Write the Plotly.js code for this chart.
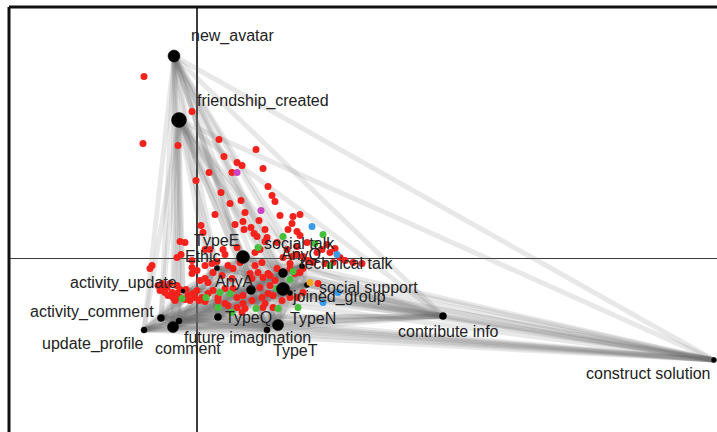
<!DOCTYPE html>
<html>
<head>
<meta charset="utf-8">
<script src="https://cdn.plot.ly/plotly-3.0.1.min.js"></script>
<style>
  html, body { margin: 0; padding: 0; background: #fff; }
  #chart { width: 717px; height: 432px; }
</style>
</head>
<body>
<div id="chart"></div>
<script>
// Activity / category nodes on the first two dimensions
const nodeNames = [
  "new_avatar", "friendship_created", "TypeE", "Ethic", "AnyA",
  "social talk", "AnyQ", "technical talk", "social support", "joined_group",
  "TypeQ", "TypeN", "TypeT", "future imagination", "comment",
  "activity_comment", "update_profile", "activity_update", "contribute info", "construct solution"
];
const nodeX = [-0.23, -0.18, 0.46, 0.20, 0.54, 0.86, 0.86, 1.05, 1.10, 0.93,
               0.21, 0.81, 0.70, -0.18, -0.24, -0.36, -0.53, -0.14, 2.46, 5.17];
const nodeY = [2.025, 1.385, 0.015, -0.095, -0.315, -0.145, -0.305, -0.075, -0.265, -0.345,
               -0.585, -0.665, -0.715, -0.625, -0.685, -0.595, -0.715, -0.325, -0.575, -1.015];
const nodeFreq = [40, 62, 47, 7, 22, 22, 47, 7, 7, 7,
                  14, 34, 10, 10, 34, 14, 10, 4.5, 14, 7];

// Individual participants, by group
const redX = [-0.53,-0.05,-0.54,-0.19,0.22,0.59,0.27,0.40,0.45,0.66,0.12,0.35,-0.01,0.71,0.24,0.75,0.78,0.33,0.44,0.18,
  0.48,0.83,1.03,0.96,0.04,0.06,0.38,0.46,0.47,0.54,0.57,0.62,0.68,0.70,0.91,0.95,1.00,1.03,0.60,-0.17,
  -0.12,0.68,0.80,1.00,1.10,1.30,1.38,0.26,0.08,0.13,0.40,0.28,0.63,0.90,0.58,1.00,1.06,1.20,1.25,1.33,
  1.43,1.48,1.56,1.65,1.36,1.28,1.16,1.11,0.93,-0.20,-0.16,-0.05,0.20,0.15,0.08,0.31,0.36,0.43,0.65,0.86,
  0.95,-0.45,-0.47,-0.05,0.00,0.58,0.61,0.53,0.71,0.80,0.93,1.06,0.98,1.03,0.66,0.73,0.78,0.55,1.21,0.16,
  0.25,0.08,0.03,-0.05,0.35,0.11,-0.35,-0.30,-0.25,-0.20,-0.11,-0.09,-0.02,0.05,0.00,-0.20,-0.27,-0.34,-0.29,-0.24,
  -0.17,-0.12,-0.07,-0.39,-0.32,-0.17,-0.04,0.02,0.08,-0.22,-0.37,0.11,0.16,0.28,0.36,0.21,0.40,0.46,0.55,0.65,
  0.68,0.71,0.73,0.63,0.76,0.85,0.93,1.00,1.06,0.66,0.76,0.31,0.40,0.48,0.46,0.45,0.21,0.28];
const redY = [1.82,1.47,1.15,1.13,1.19,1.09,1.02,0.96,0.93,0.90,0.86,0.86,0.78,0.72,0.66,0.63,0.57,0.55,0.58,0.44,
  0.46,0.43,0.44,0.42,0.33,0.26,0.34,0.37,0.29,0.31,0.25,0.38,0.29,0.21,0.29,0.35,0.27,0.23,0.22,0.17,
  0.16,0.17,0.16,0.12,0.16,0.14,0.10,0.09,0.09,0.09,0.11,0.04,0.09,0.09,0.06,0.04,0.02,0.06,0.09,0.06,
  0.01,-0.02,-0.04,-0.05,-0.04,-0.05,-0.04,-0.02,-0.05,0.01,0.04,-0.02,-0.03,-0.05,-0.07,-0.07,-0.10,-0.04,-0.04,0.01,
  0.02,-0.07,-0.10,-0.09,-0.12,-0.07,-0.14,-0.15,-0.15,-0.10,-0.10,-0.10,-0.15,-0.14,-0.19,-0.17,-0.22,-0.20,-0.25,-0.14,
  -0.17,-0.20,-0.22,-0.15,-0.20,-0.24,-0.25,-0.29,-0.34,-0.35,-0.31,-0.37,-0.39,-0.39,-0.32,-0.27,-0.25,-0.30,-0.37,-0.39,
  -0.39,-0.41,-0.42,-0.27,-0.34,-0.31,-0.35,-0.42,-0.43,-0.42,-0.32,-0.35,-0.32,-0.30,-0.30,-0.39,-0.39,-0.37,-0.42,-0.39,
  -0.45,-0.35,-0.27,-0.29,-0.37,-0.42,-0.39,-0.39,-0.34,-0.49,-0.49,-0.47,-0.49,-0.50,-0.45,-0.54,-0.42,-0.45];
const greenX = [0.61,0.86,1.26,1.18,1.33,0.96,0.93,0.80,1.01,0.59,0.81,0.35,0.23,0.33,-0.15,0.09,0.21];
const greenY = [0.11,0.22,0.24,0.15,-0.07,-0.13,-0.21,-0.30,-0.49,-0.50,-0.50,-0.54,-0.34,-0.35,-0.40,-0.39,-0.49];
const blueX = [1.15, 1.40, 1.41, 1.26];
const blueY = [0.32, 0.04, -0.34, -0.44];
const purpleX = [0.40, 0.64];
const purpleY = [0.86, 0.48];
const orangeX = [1.13];
const orangeY = [-0.24];

// Label placement (pixel offsets from each node)
const labelDX = [15, 16, -51, -34, -38, -21, -4, -4, 10, 0, 5, 10, 4, 3, -20, -133, -104, -115, -47, -130];
const labelDY = [20, 19, 17, 12, 9, 30, 35, 3, -2, -4, 0, 7, -20, -16, -21, 6, -14, 8, -15, -13];

const traces = [];

// Links between every pair of nodes, drawn one by one so overlaps build up
for (let i = 0; i < nodeNames.length; i++) {
  for (let j = i + 1; j < nodeNames.length; j++) {
    traces.push({
      type: "scatter", mode: "lines",
      x: [nodeX[i], nodeX[j]], y: [nodeY[i], nodeY[j]],
      line: { color: "rgba(110,110,110,0.16)", width: 5 },
      hoverinfo: "skip"
    });
  }
}

function pts(x, y, color) {
  return {
    type: "scatter", mode: "markers", x: x, y: y,
    marker: { color: color, size: 7, opacity: 1, line: { width: 0 } },
    hoverinfo: "skip"
  };
}
traces.push(pts(redX, redY, "#f3221c"));
traces.push(pts(greenX, greenY, "#45bf3c"));
traces.push(pts(blueX, blueY, "#3c9be6"));
traces.push(pts(purpleX, purpleY, "#cc44c4"));

traces.push({
  type: "scatter", mode: "markers", x: nodeX, y: nodeY,
  marker: { color: "#000", opacity: 1, size: nodeFreq.map(f => 1.9 * Math.sqrt(f)), line: { width: 0.5, color: "#000" } },
  hoverinfo: "skip"
});
traces.push(pts(orangeX, orangeY, "#f0a820"));

const annotations = nodeNames.map((name, k) => ({
  x: nodeX[k], y: nodeY[k], xref: "x", yref: "y",
  text: name, showarrow: false,
  xanchor: "left", yanchor: "middle",
  xshift: labelDX[k], yshift: labelDY[k],
  font: { family: "Liberation Sans, Arial, sans-serif", size: 16, color: "#222" }
}));

const layout = {
  width: 717, height: 432,
  margin: { l: 9, r: 0, t: 7, b: 0 },
  paper_bgcolor: "#fff", plot_bgcolor: "#fff",
  showlegend: false,
  xaxis: {
    range: [-1.88, 5.20], showgrid: false, showticklabels: false, ticks: "",
    zeroline: true, zerolinecolor: "#3c3c3c", zerolinewidth: 1.5, showline: false
  },
  yaxis: {
    range: [-1.735, 2.515], showgrid: false, showticklabels: false, ticks: "",
    zeroline: true, zerolinecolor: "#3c3c3c", zerolinewidth: 1.5, showline: false
  },
  shapes: [
    { type: "line", xref: "paper", yref: "paper", x0: 0, x1: 0, y0: -0.05, y1: 1, line: { color: "#111", width: 3 } },
    { type: "line", xref: "paper", yref: "paper", x0: 0, x1: 1.05, y0: 1, y1: 1, line: { color: "#111", width: 3 } }
  ],
  annotations: annotations
};

Plotly.newPlot("chart", traces, layout, { displayModeBar: false, staticPlot: true });
</script>
</body>
</html>
